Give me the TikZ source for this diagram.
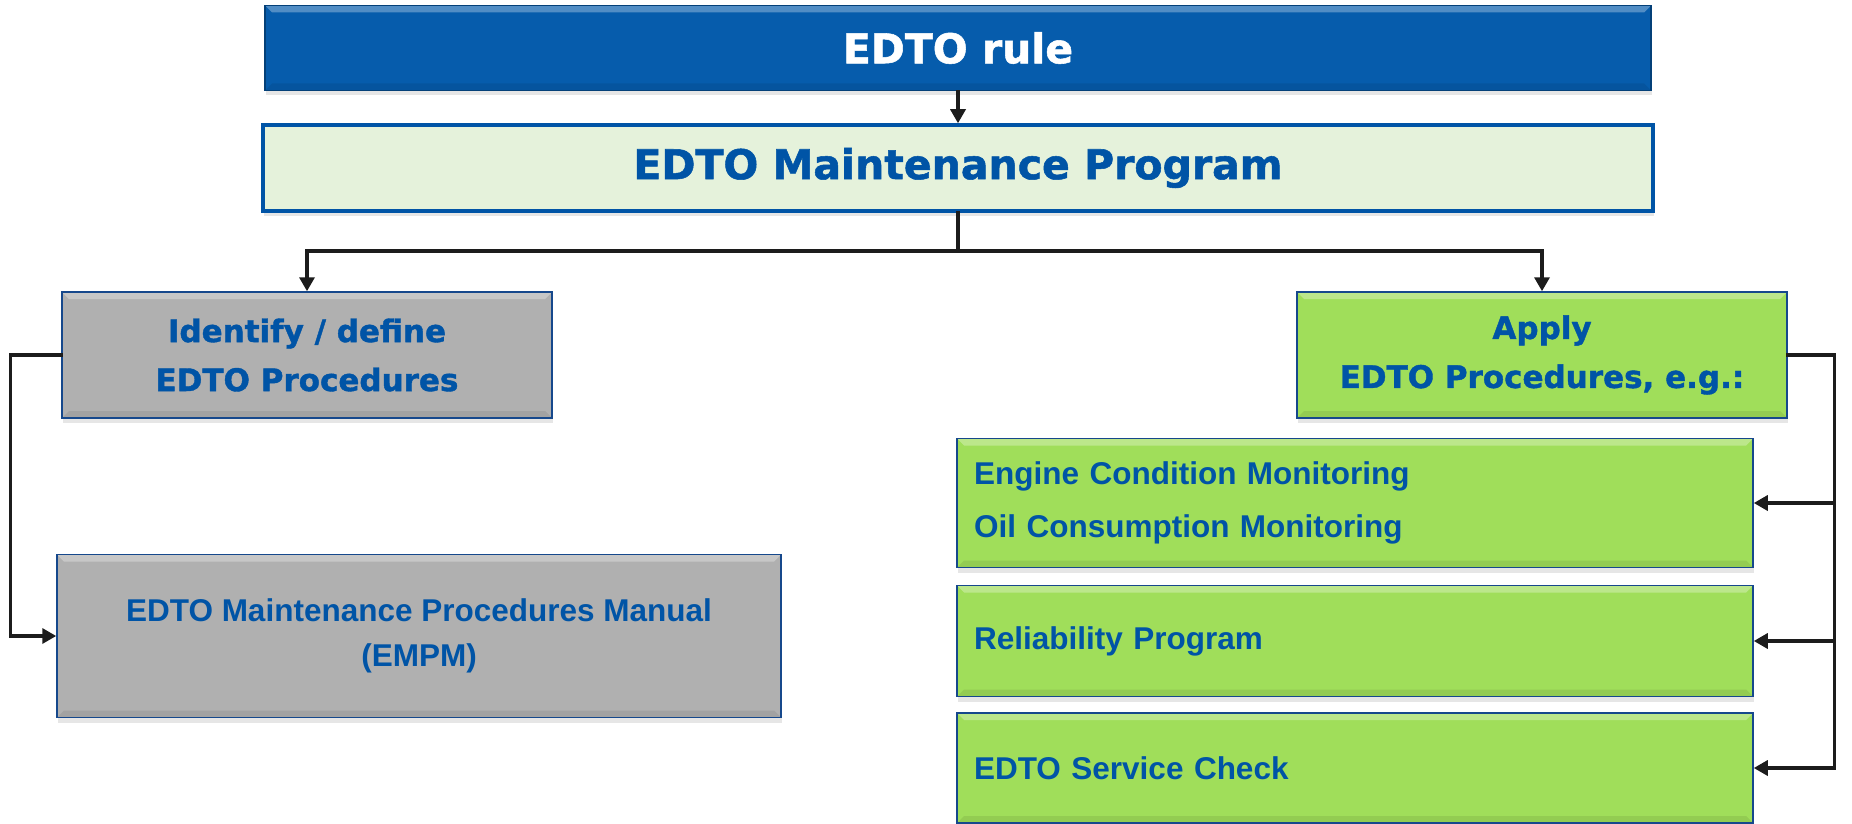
\documentclass[tikz,border=0pt]{standalone}
\usepackage{fontspec}
\setmainfont{Liberation Sans}
\newfontfamily\widefont{DejaVu Sans}[BoldFeatures={FakeBold=1.3}]
\usepackage{tikz}
\usetikzlibrary{arrows.meta, positioning, shadows, calc}
\definecolor{rulecolor}{RGB}{6, 92, 172}
\definecolor{progcolor}{RGB}{229, 242, 219}
\definecolor{edgecolor}{RGB}{22, 72, 140}
\definecolor{greycolor}{RGB}{176, 176, 176}
\definecolor{greencolor}{RGB}{160, 222, 90}
\definecolor{textcolor}{RGB}{0, 84, 166}
\definecolor{linecolor}{RGB}{28, 28, 28}

\begin{document}
\begin{tikzpicture}[
    x=1pt, y=-1pt,
    bevel/.style={path picture={
        \fill[white, opacity=0.3] (path picture bounding box.north west) -- (path picture bounding box.north east)
            -- ([shift={(-7pt,-7pt)}]path picture bounding box.north east) -- ([shift={(7pt,-7pt)}]path picture bounding box.north west) -- cycle;
        \fill[black, opacity=0.08] (path picture bounding box.south west) -- (path picture bounding box.south east)
            -- ([shift={(-7pt,7pt)}]path picture bounding box.south east) -- ([shift={(7pt,7pt)}]path picture bounding box.south west) -- cycle;
    }},
    box/.style={draw=edgecolor, line width=1.5pt, inner sep=0pt, align=center, text=textcolor, drop shadow={shadow xshift=1pt, shadow yshift=-5pt, opacity=0.2}},
    rulebox/.style={box, bevel, fill=rulecolor, draw=rulecolor!70!black, minimum width=1386pt, minimum height=85pt, text=white, font=\widefont\bfseries\fontsize{41}{48}\selectfont},
    progbox/.style={box, fill=progcolor, draw=textcolor, line width=3.5pt, minimum width=1390pt, minimum height=86pt, font=\widefont\bfseries\fontsize{41}{48}\selectfont},
    stepbox/.style={box, bevel, minimum width=490pt, minimum height=126pt, font=\widefont\bfseries\fontsize{31}{49}\selectfont},
    itembox/.style={box, bevel, fill=greencolor, align=left, text width=762pt, inner xsep=17pt, font=\bfseries\fontsize{31.5}{53}\selectfont},
    arr/.style={draw=linecolor, line width=3.3pt, line cap=rect, -{Triangle[length=14pt, width=15pt]}}
]
    \useasboundingbox (0,0) rectangle (1852,824);

    % Rule and program
    \node[rulebox] (rule) at (958,48) {EDTO rule};
    \node[progbox] (prog) at (958,168) {EDTO Maintenance Program};
    \coordinate (split) at (958,251);

    % Two branches
    \node[stepbox, fill=greycolor] (ident) at (307,355) {Identify / define\\EDTO Procedures};
    \node[stepbox, fill=greencolor] (apply) at (1542,355) {Apply\\EDTO Procedures, e.g.:};

    % Manual
    \node[box, bevel, fill=greycolor, minimum width=724pt, minimum height=163pt, font=\bfseries\fontsize{31.5}{45}\selectfont] (empm) at (419,636) {EDTO Maintenance Procedures Manual\\(EMPM)};

    % Procedures
    \node[itembox, minimum height=129pt] (ecm) at (1355,503) {Engine Condition Monitoring\\Oil Consumption Monitoring};
    \node[itembox, minimum height=111pt] (rel) at (1355,641) {Reliability Program};
    \node[itembox, minimum height=110pt] (svc) at (1355,768) {EDTO Service Check};

    % Arrows
    \draw[arr] (rule) -- (prog);
    \draw[arr, -] (prog) -- (split);
    \draw[arr] (split) -| (ident);
    \draw[arr] (split) -| (apply);
    \draw[arr] (ident.west) -- ++(-51,0) |- (empm);
    \draw[arr] (apply.east) -- ++(47,0) coordinate (bus) |- (svc);
    \draw[arr] (bus) |- (ecm);
    \draw[arr] (bus) |- (rel);

\end{tikzpicture}
\end{document}
